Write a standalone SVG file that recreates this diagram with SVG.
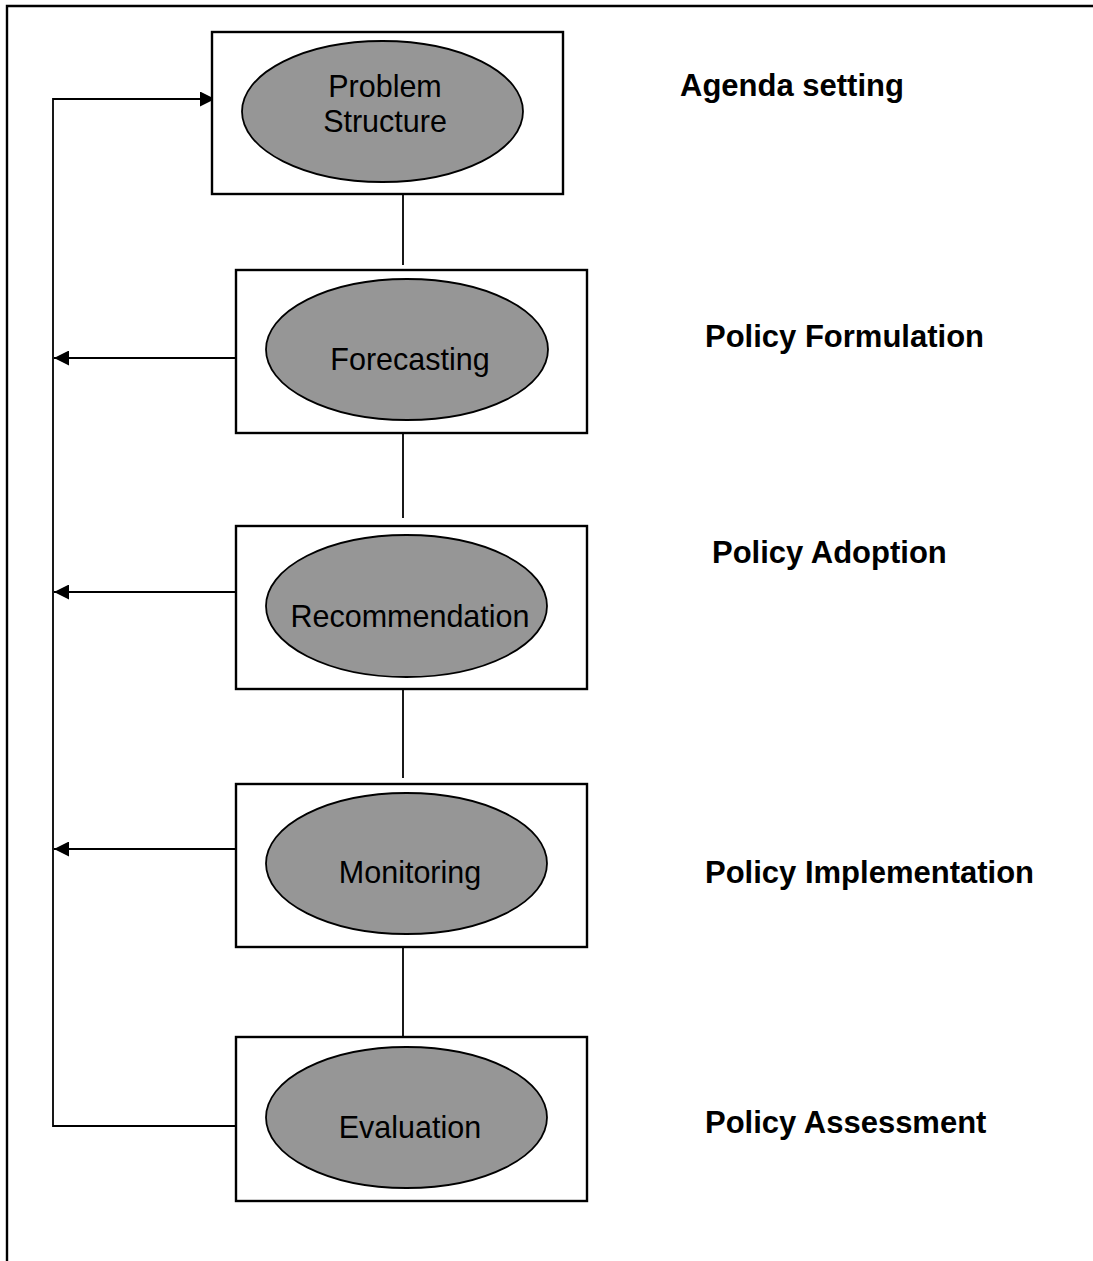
<svg xmlns="http://www.w3.org/2000/svg" width="1093" height="1261" viewBox="0 0 1093 1261">
  <style>
    .box { fill: #ffffff; stroke: #000000; stroke-width: 2.4; }
    .oval { fill: #969696; stroke: #000000; stroke-width: 1.8; }
    .lbl { font-family: "Liberation Sans", Arial, sans-serif; font-size: 30.5px; fill: #000000; text-anchor: middle; }
    .stage { font-family: "Liberation Sans", Arial, sans-serif; font-size: 31px; font-weight: bold; fill: #000000; }
    .conn { fill: none; stroke: #000000; stroke-width: 1.8; }
    .frame { fill: none; stroke: #000000; stroke-width: 2.4; }
  </style>
  <defs>
    <marker id="arrow" viewBox="0 0 10 10" refX="10" refY="5" markerWidth="16" markerHeight="15" markerUnits="userSpaceOnUse" orient="auto">
      <path d="M0,0 L10,5 L0,10 Z" fill="#000000"/>
    </marker>
  </defs>
  <rect width="1093" height="1261" fill="#ffffff"/>
  <g id="frame">
    <path class="frame" d="M7,1261 L7,6 L1093,6"/>
  </g>
  <g id="connectors">
    <line class="conn" x1="403" y1="195" x2="403" y2="265"/>
    <line class="conn" x1="403" y1="424" x2="403" y2="518"/>
    <line class="conn" x1="403" y1="684" x2="403" y2="778"/>
    <line class="conn" x1="403" y1="942" x2="403" y2="1037"/>
    <path class="conn" d="M241,1126 L53,1126 L53,99 L215,99" marker-end="url(#arrow)"/>
    <line class="conn" x1="241" y1="358" x2="54" y2="358" marker-end="url(#arrow)"/>
    <line class="conn" x1="241" y1="592" x2="54" y2="592" marker-end="url(#arrow)"/>
    <line class="conn" x1="241" y1="849" x2="54" y2="849" marker-end="url(#arrow)"/>
  </g>
  <g id="node-problem">
    <rect class="box" x="212" y="32" width="351" height="162"/>
    <ellipse class="oval" cx="382.5" cy="111.5" rx="140.5" ry="70.5"/>
    <text class="lbl" x="385" y="97">Problem</text>
    <text class="lbl" x="385" y="132">Structure</text>
  </g>
  <g id="node-forecasting">
    <rect class="box" x="236" y="270" width="351" height="163"/>
    <ellipse class="oval" cx="407" cy="349.5" rx="141" ry="70.5"/>
    <text class="lbl" x="410" y="370">Forecasting</text>
  </g>
  <g id="node-recommendation">
    <rect class="box" x="236" y="526" width="351" height="163"/>
    <ellipse class="oval" cx="406.5" cy="606" rx="140.5" ry="71"/>
    <text class="lbl" x="410" y="627">Recommendation</text>
  </g>
  <g id="node-monitoring">
    <rect class="box" x="236" y="784" width="351" height="163"/>
    <ellipse class="oval" cx="406.5" cy="863.5" rx="140.5" ry="70.5"/>
    <text class="lbl" x="410" y="883">Monitoring</text>
  </g>
  <g id="node-evaluation">
    <rect class="box" x="236" y="1037" width="351" height="164"/>
    <ellipse class="oval" cx="406.5" cy="1117.5" rx="140.5" ry="70.5"/>
    <text class="lbl" x="410" y="1138">Evaluation</text>
  </g>
  <g id="stage-labels">
    <text class="stage" x="680" y="96">Agenda setting</text>
    <text class="stage" x="705" y="347">Policy Formulation</text>
    <text class="stage" x="712" y="563">Policy Adoption</text>
    <text class="stage" x="705" y="883">Policy Implementation</text>
    <text class="stage" x="705" y="1133">Policy Assessment</text>
  </g>
</svg>
